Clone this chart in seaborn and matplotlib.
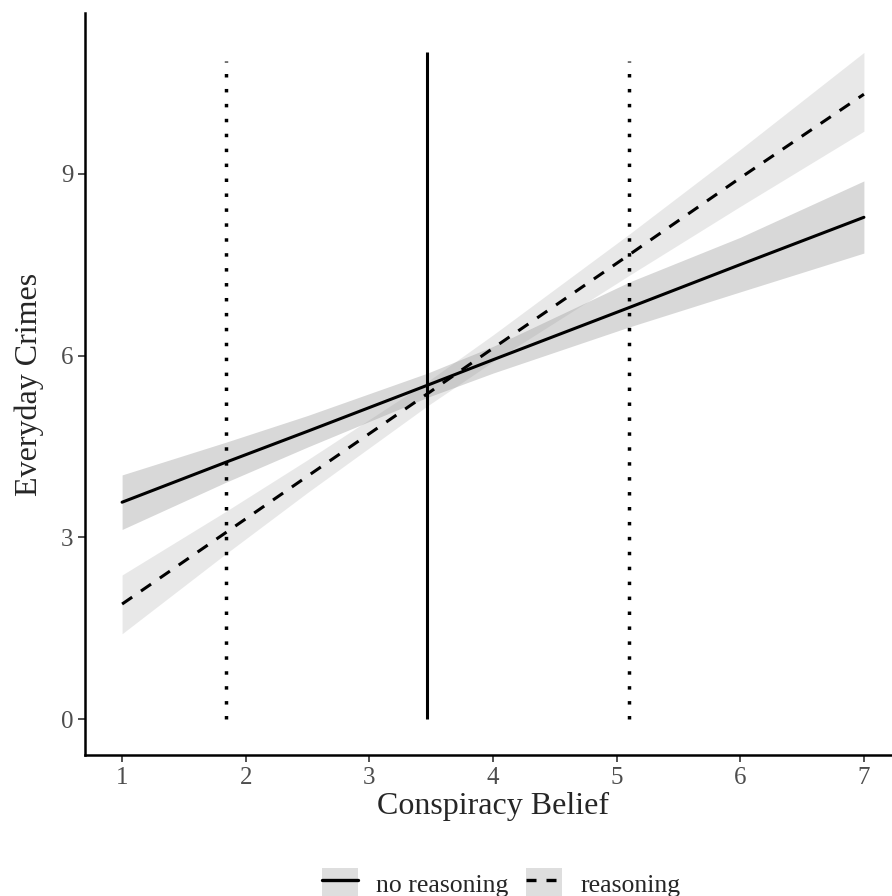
import matplotlib
matplotlib.use("Agg")
import matplotlib.pyplot as plt
import seaborn as sns
import pandas as pd
from matplotlib.patches import Patch
from matplotlib.lines import Line2D
from matplotlib.legend_handler import HandlerTuple

# values
belief = [1.0, 1.84, 2.5, 3.47, 4.0, 5.1, 6.0, 7.0]

no_reason_fit = [3.58, 4.24, 4.75, 5.51, 5.93, 6.79, 7.50, 8.28]
no_reason_lo = [3.13, 3.91, 4.49, 5.31, 5.71, 6.47, 7.05, 7.69]
no_reason_hi = [4.03, 4.57, 5.01, 5.71, 6.15, 7.21, 7.95, 8.88]

reason_fit = [1.90, 3.08, 4.01, 5.37, 6.12, 7.66, 8.93, 10.31]
reason_lo = [1.41, 2.73, 3.74, 5.17, 5.90, 7.32, 8.46, 9.70]
reason_hi = [2.38, 3.43, 4.28, 5.57, 6.34, 8.00, 9.40, 11.00]

belief_mean = 3.47
belief_lo_sd = 1.84
belief_hi_sd = 5.10
mean_line_top = 11.0
sd_line_top = 10.85

x_ticks = [1, 2, 3, 4, 5, 6, 7]
y_ticks = [0, 3, 6, 9]
groups = ["no reasoning", "reasoning"]

sns.set_style("ticks")
plt.rcParams["font.family"] = ["Liberation Serif", "DejaVu Serif"]

df = pd.DataFrame({
    "belief": belief * 2,
    "crimes": no_reason_fit + reason_fit,
    "group": [groups[0]] * len(belief) + [groups[1]] * len(belief),
})

fig = plt.figure(figsize=(8.92, 8.96), dpi=100)
ax = fig.add_axes([85 / 892, 141 / 896, 816 / 892, 742 / 896])

ax.fill_between(belief, no_reason_lo, no_reason_hi, color="#999999", alpha=0.38, lw=0)
ax.fill_between(belief, reason_lo, reason_hi, color="#999999", alpha=0.22, lw=0)

sns.lineplot(data=df, x="belief", y="crimes", style="group",
             dashes={groups[0]: "", groups[1]: (4, 3.5)},
             color="black", linewidth=2.2, ax=ax, legend=False)

ax.vlines(belief_mean, 0, mean_line_top, color="black", lw=2.2)
ax.vlines([belief_lo_sd, belief_hi_sd], 0, sd_line_top, color="black", lw=2.5,
          linestyles=[(0, (1, 3.3))])

ax.set_xlim(0.7, 7.3)
ax.set_ylim(-0.59, 11.65)
ax.set_xticks(x_ticks)
ax.set_yticks(y_ticks)
ax.tick_params(axis="both", labelsize=18, labelcolor="#4d4d4d", color="#333333",
               length=5, width=1.2)
ax.set_xlabel("Conspiracy Belief", fontsize=23, labelpad=2)
ax.set_ylabel("Everyday Crimes", fontsize=23, labelpad=12)
sns.despine(ax=ax)
for side in ["left", "bottom"]:
    ax.spines[side].set_linewidth(1.8)
    ax.spines[side].set_color("black")

key_fill = "#dedede"
handles = [
    (Patch(facecolor=key_fill, edgecolor="none"), Line2D([], [], color="black", lw=2.4)),
    (Patch(facecolor=key_fill, edgecolor="none"),
     Line2D([], [], color="black", lw=2.4, dashes=(3, 3))),
]
fig.legend(handles, groups, handler_map={tuple: HandlerTuple(ndivide=1, pad=0)},
           loc="center", bbox_to_anchor=(501 / 892, 13 / 896), ncol=2, frameon=False,
           fontsize=18.5, handlelength=1.4, handleheight=1.4, handletextpad=0.7,
           columnspacing=0.7)

fig.savefig("out.png", dpi=100)
